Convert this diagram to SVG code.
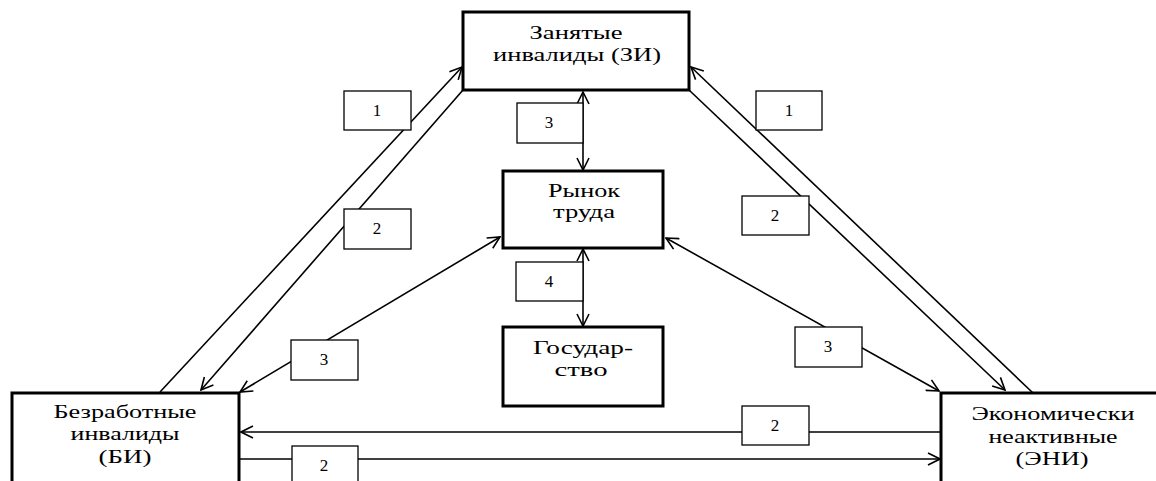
<svg xmlns="http://www.w3.org/2000/svg" width="1156" height="481" viewBox="0 0 1156 481">
<style>
.node{fill:#fff;stroke:#000;stroke-width:3}
.ntext{font-size:18px;fill:#000;text-anchor:middle}
.conn{fill:none;stroke:#000;stroke-width:1.6}
.lbl{fill:#fff;stroke:#000;stroke-width:1.3}
.ltext{font-size:17px;fill:#000;text-anchor:middle}
</style>
<defs>
<marker id="ah" viewBox="0 0 14 14" refX="13" refY="7" markerWidth="14" markerHeight="14" markerUnits="userSpaceOnUse" orient="auto-start-reverse">
<path d="M1,1 L13,7 L1,13" fill="none" stroke="#000" stroke-width="1.6"/>
</marker>
</defs>
<rect width="1156" height="481" fill="#fff"/>
<g id="connectors">
<line class="conn" x1="160" y1="392" x2="462" y2="67" marker-end="url(#ah)"/>
<line class="conn" x1="463" y1="90" x2="201" y2="390" marker-end="url(#ah)"/>
<line class="conn" x1="1033" y1="393" x2="691" y2="67" marker-end="url(#ah)"/>
<line class="conn" x1="689" y1="90" x2="1005" y2="390" marker-end="url(#ah)"/>
<line class="conn" x1="583" y1="92" x2="583" y2="170" marker-start="url(#ah)" marker-end="url(#ah)"/>
<line class="conn" x1="583" y1="249" x2="583" y2="326" marker-start="url(#ah)" marker-end="url(#ah)"/>
<line class="conn" x1="240" y1="392" x2="500" y2="237" marker-start="url(#ah)" marker-end="url(#ah)"/>
<line class="conn" x1="666" y1="238" x2="939" y2="391" marker-start="url(#ah)" marker-end="url(#ah)"/>
<line class="conn" x1="940" y1="432" x2="241" y2="432" marker-end="url(#ah)"/>
<line class="conn" x1="240" y1="459" x2="940" y2="459" marker-end="url(#ah)"/>
<g id="labels" font-family="'Liberation Serif', 'DejaVu Serif', serif">
<rect class="lbl" x="344" y="91" width="67" height="39"/><text class="ltext" x="377" y="116">1</text>
<rect class="lbl" x="344" y="209" width="67" height="40"/><text class="ltext" x="377" y="234">2</text>
<rect class="lbl" x="756" y="91" width="66" height="39"/><text class="ltext" x="789" y="116">1</text>
<rect class="lbl" x="742" y="196" width="67" height="39"/><text class="ltext" x="775" y="221">2</text>
<rect class="lbl" x="517" y="103" width="66" height="40"/><text class="ltext" x="549" y="128">3</text>
<rect class="lbl" x="516" y="262" width="67" height="39"/><text class="ltext" x="549" y="287">4</text>
<rect class="lbl" x="291" y="340" width="67" height="40"/><text class="ltext" x="324" y="365">3</text>
<rect class="lbl" x="795" y="327" width="67" height="40"/><text class="ltext" x="828" y="352">3</text>
<rect class="lbl" x="742" y="406" width="67" height="39"/><text class="ltext" x="775" y="431">2</text>
<rect class="lbl" x="292" y="446" width="66" height="40"/><text class="ltext" x="324" y="471">2</text>
</g>
</g>
<g id="nodes" font-family="'Liberation Serif', 'DejaVu Serif', serif">
<g id="node-zi">
<rect class="node" x="463" y="12" width="226" height="78"/>
<text class="ntext" x="576" y="39" textLength="93" lengthAdjust="spacingAndGlyphs">Занятые</text>
<text class="ntext" x="577" y="61" textLength="168" lengthAdjust="spacingAndGlyphs">инвалиды (ЗИ)</text>
</g>
<g id="node-rynok">
<rect class="node" x="503" y="171" width="160" height="77"/>
<text class="ntext" x="584" y="197" textLength="72" lengthAdjust="spacingAndGlyphs">Рынок</text>
<text class="ntext" x="584" y="218" textLength="62" lengthAdjust="spacingAndGlyphs">труда</text>
</g>
<g id="node-gos">
<rect class="node" x="503" y="327" width="160" height="79"/>
<text class="ntext" x="583" y="354" textLength="100" lengthAdjust="spacingAndGlyphs">Государ-</text>
<text class="ntext" x="581" y="376" textLength="53" lengthAdjust="spacingAndGlyphs">ство</text>
</g>
<g id="node-bi">
<rect class="node" x="12" y="393" width="227" height="100"/>
<text class="ntext" x="125" y="418" textLength="143" lengthAdjust="spacingAndGlyphs">Безработные</text>
<text class="ntext" x="125" y="440" textLength="109" lengthAdjust="spacingAndGlyphs">инвалиды</text>
<text class="ntext" x="125" y="463" textLength="53" lengthAdjust="spacingAndGlyphs">(БИ)</text>
</g>
<g id="node-eni">
<rect class="node" x="941" y="393" width="227" height="100"/>
<text class="ntext" x="1053" y="420" textLength="163" lengthAdjust="spacingAndGlyphs">Экономически</text>
<text class="ntext" x="1053" y="443" textLength="129" lengthAdjust="spacingAndGlyphs">неактивные</text>
<text class="ntext" x="1052" y="465" textLength="73" lengthAdjust="spacingAndGlyphs">(ЭНИ)</text>
</g>
</g>
</svg>
